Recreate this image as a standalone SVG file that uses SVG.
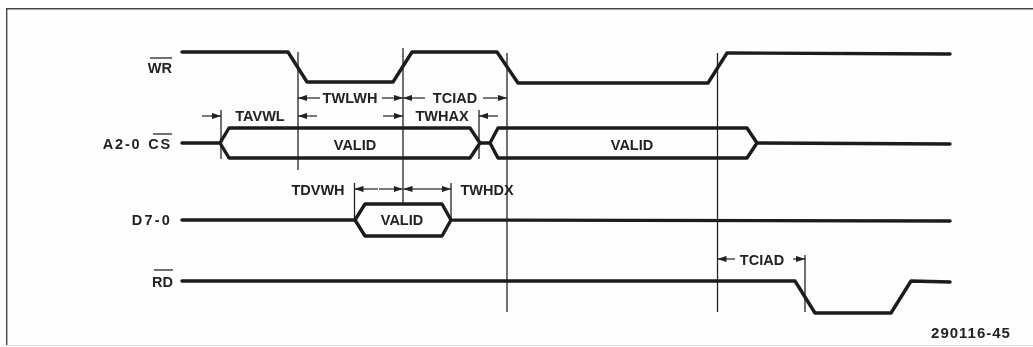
<svg xmlns="http://www.w3.org/2000/svg" width="1033" height="347" viewBox="0 0 1033 347">
<style>
.sig{fill:none;stroke:#1c1c1c;stroke-width:3.4;stroke-linejoin:round;stroke-linecap:round}
.v{fill:none;stroke:#222;stroke-width:1.3}
.d{fill:none;stroke:#222;stroke-width:1.2;marker-end:url(#a)}
.b{fill:none;stroke:#444;stroke-width:1.8}
.o{fill:none;stroke:#222;stroke-width:1.3}
text{font-family:"Liberation Sans",Arial,sans-serif;font-weight:700;font-size:14.500px;fill:#222;text-anchor:middle}
.r{text-anchor:end}
</style>
<defs>
<marker id="a" markerUnits="userSpaceOnUse" markerWidth="9" markerHeight="7" refX="9" refY="3.500" orient="auto">
<path d="M0 0.400L9 3.500L0 6.600Z" fill="#222"/>
</marker>
<filter id="scan" x="0" y="0" width="100%" height="100%"><feGaussianBlur stdDeviation="0.350"/></filter>
</defs>
<rect width="1033" height="347" fill="#fefefe"/>
<g filter="url(#scan)">
<path id="frame" class="b" d="M1033 8.500H6.500V346"/>
<path id="frame-bottom" fill="none" stroke="#ddd" stroke-width="1" d="M6 345.500H1033"/>
<g id="connectors">
<g id="guides">
<path class="v" d="M298 52V170"/>
<path class="v" d="M221 110V159"/>
<path class="v" d="M403 48V203"/>
<path class="v" d="M507 53V312"/>
<path class="v" d="M479 110V159"/>
<path class="v" d="M717.500 53V312"/>
<path class="v" d="M354.500 183V221"/>
<path class="v" d="M451 183V221"/>
<path class="v" d="M805 255V312"/>
</g>
<g id="dimensions">
<path class="d" d="M320 98H298"/>
<path class="d" d="M382 98H403"/>
<path class="d" d="M425 98H403"/>
<path class="d" d="M483 98H507"/>
<path class="d" d="M202 116H221"/>
<path class="d" d="M317 116H298"/>
<path class="d" d="M383 116H403"/>
<path class="d" d="M498 116H479"/>
<path class="d" d="M378 189H354.500"/>
<path class="d" d="M379 189H402.500"/>
<path class="d" d="M427 189H403.500"/>
<path class="d" d="M427 189H451"/>
<path class="d" d="M735 259H717.500"/>
<path class="d" d="M793 259H805"/>
</g>
</g>
<g id="WR">
<path class="sig" d="M182 52H288L307 82H393L412 52H497L518 83H708L727 53L950 54"/>
<text class="r" x="172" y="73">WR</text>
<path class="o" d="M150 58H172"/>
</g>
<g id="A2-0-CS">
<path class="sig" d="M182 143H220L229 128H470L480 143H490L498 128H747L757 143L950 144M220 143L229 158H470L480 143M490 143L498 158H747L757 143"/>
<text class="r" x="172" y="149" word-spacing="1" letter-spacing="1.800">A2-0 CS</text>
<path class="o" d="M153 134H172"/>
<text x="355" y="150">VALID</text>
<text x="632" y="150">VALID</text>
</g>
<g id="D7-0">
<path class="sig" d="M182 220H355L365 204H442L451 220L950 221M355 220L365 236H442L451 220"/>
<text class="r" x="172" y="225" letter-spacing="2.200">D7-0</text>
<text x="402" y="225">VALID</text>
</g>
<g id="RD">
<path class="sig" d="M182 281H795L815 313H891L911 281L950 282"/>
<text class="r" x="173" y="287">RD</text>
<path class="o" d="M154 270H173"/>
</g>
<g id="labels">
<text x="350" y="103">TWLWH</text>
<text x="455" y="103">TCIAD</text>
<text x="260" y="121">TAVWL</text>
<text x="442" y="121">TWHAX</text>
<text x="318" y="195">TDVWH</text>
<text x="487" y="195">TWHDX</text>
<text x="762" y="265">TCIAD</text>
<text x="971" y="338" style="font-size:15px;letter-spacing:1px">290116-45</text>
</g>
</g>
</svg>
